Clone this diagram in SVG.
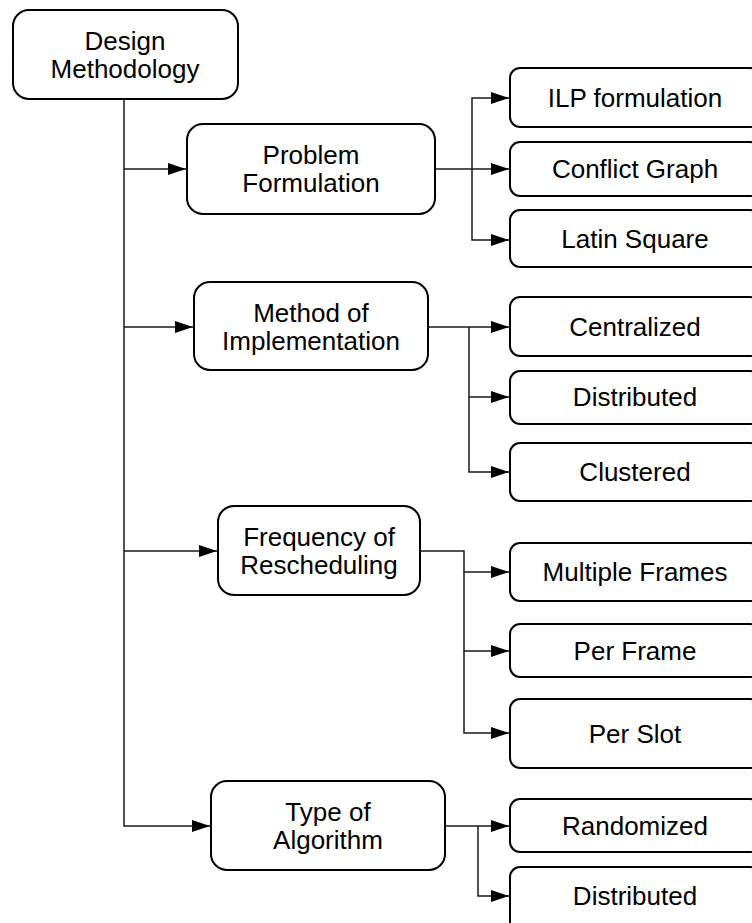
<svg xmlns="http://www.w3.org/2000/svg" width="752" height="923" viewBox="0 0 752 923">
<style>
.box{fill:#fff;stroke:#000;stroke-width:2}
.t{font-family:"Liberation Sans",Arial,sans-serif;font-size:26px;fill:#000;text-anchor:middle}
.c{fill:none;stroke:#1a1a1a;stroke-width:1.5}
</style>
<defs>
<marker id="ah" markerUnits="userSpaceOnUse" markerWidth="18" markerHeight="12" refX="18" refY="6" orient="auto">
<path d="M0,0 L18,6 L0,12 z" fill="#000"/>
</marker>
</defs>
<rect width="752" height="923" fill="#fff"/>
<g id="connectors">
<path class="c" d="M124,99 V826 H210" marker-end="url(#ah)"/>
<path class="c" d="M124,169 H186" marker-end="url(#ah)"/>
<path class="c" d="M124,327 H193" marker-end="url(#ah)"/>
<path class="c" d="M124,551 H217" marker-end="url(#ah)"/>
<path class="c" d="M435,169 H472 V98 H509" marker-end="url(#ah)"/>
<path class="c" d="M472,169 H509" marker-end="url(#ah)"/>
<path class="c" d="M472,169 V240 H509" marker-end="url(#ah)"/>
<path class="c" d="M428,327 H509" marker-end="url(#ah)"/>
<path class="c" d="M469,327 V397 H509" marker-end="url(#ah)"/>
<path class="c" d="M469,397 V472 H509" marker-end="url(#ah)"/>
<path class="c" d="M420,551 H464 V572 H509" marker-end="url(#ah)"/>
<path class="c" d="M464,572 V651 H509" marker-end="url(#ah)"/>
<path class="c" d="M464,651 V733 H509" marker-end="url(#ah)"/>
<path class="c" d="M445,826 H509" marker-end="url(#ah)"/>
<path class="c" d="M478,826 V896 H509" marker-end="url(#ah)"/>
</g>
<g id="root">
<rect class="box" x="13" y="10" width="225" height="89" rx="16"/>
<text class="t" x="125" y="50">Design</text>
<text class="t" x="125" y="78">Methodology</text>
</g>
<g id="problem-formulation">
<rect class="box" x="187" y="124" width="248" height="90" rx="16"/>
<text class="t" x="311" y="164">Problem</text>
<text class="t" x="311" y="192">Formulation</text>
</g>
<g id="method-of-implementation">
<rect class="box" x="194" y="282" width="234" height="88" rx="16"/>
<text class="t" x="311" y="322">Method of</text>
<text class="t" x="311" y="350">Implementation</text>
</g>
<g id="frequency-of-rescheduling">
<rect class="box" x="218" y="506" width="202" height="89" rx="16"/>
<text class="t" x="319" y="546">Frequency of</text>
<text class="t" x="319" y="574">Rescheduling</text>
</g>
<g id="type-of-algorithm">
<rect class="box" x="211" y="781" width="234" height="89" rx="16"/>
<text class="t" x="328" y="821">Type of</text>
<text class="t" x="328" y="849">Algorithm</text>
</g>
<g id="ilp">
<rect class="box" x="510" y="68" width="250" height="59" rx="10"/>
<text class="t" x="635" y="107">ILP formulation</text>
</g>
<g id="conflict-graph">
<rect class="box" x="510" y="142" width="250" height="54" rx="10"/>
<text class="t" x="635" y="178">Conflict Graph</text>
</g>
<g id="latin-square">
<rect class="box" x="510" y="210" width="250" height="57" rx="10"/>
<text class="t" x="635" y="248">Latin Square</text>
</g>
<g id="centralized">
<rect class="box" x="510" y="297" width="250" height="59" rx="10"/>
<text class="t" x="635" y="336">Centralized</text>
</g>
<g id="distributed-1">
<rect class="box" x="510" y="371" width="250" height="53" rx="10"/>
<text class="t" x="635" y="406">Distributed</text>
</g>
<g id="clustered">
<rect class="box" x="510" y="443" width="250" height="58" rx="10"/>
<text class="t" x="635" y="481">Clustered</text>
</g>
<g id="multiple-frames">
<rect class="box" x="510" y="543" width="250" height="58" rx="10"/>
<text class="t" x="635" y="581">Multiple Frames</text>
</g>
<g id="per-frame">
<rect class="box" x="510" y="624" width="250" height="53" rx="10"/>
<text class="t" x="635" y="660">Per Frame</text>
</g>
<g id="per-slot">
<rect class="box" x="510" y="699" width="250" height="69" rx="10"/>
<text class="t" x="635" y="743">Per Slot</text>
</g>
<g id="randomized">
<rect class="box" x="510" y="799" width="250" height="53" rx="10"/>
<text class="t" x="635" y="835">Randomized</text>
</g>
<g id="distributed-2">
<rect class="box" x="510" y="867" width="250" height="73" rx="10"/>
<text class="t" x="635" y="905">Distributed</text>
</g>
</svg>
